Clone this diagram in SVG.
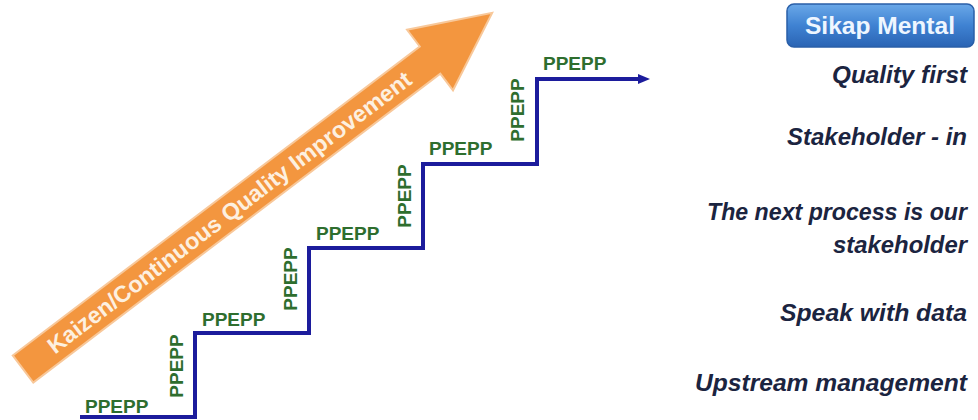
<svg xmlns="http://www.w3.org/2000/svg" width="978" height="420" viewBox="0 0 978 420">
  <defs>
    <style>
      .lbl { font-family: "Liberation Sans", Arial, sans-serif; font-weight: bold; font-size: 19px; fill: #2e6e2e; }
      .item { font-family: "Liberation Sans", Arial, sans-serif; font-weight: bold; font-style: italic; font-size: 23px; fill: #1b2440; text-anchor: end; }
      .stair { fill: none; stroke: #1c1c9c; stroke-width: 4; stroke-linejoin: miter; }
    </style>
    <linearGradient id="btnGrad" x1="0" y1="0" x2="0" y2="1">
      <stop offset="0" stop-color="#6aa8e8"/>
      <stop offset="0.5" stop-color="#3f82d2"/>
      <stop offset="1" stop-color="#2a64b4"/>
    </linearGradient>
    <marker id="arrowHead" markerUnits="userSpaceOnUse" markerWidth="12" markerHeight="10" refX="4" refY="5" orient="auto">
      <path d="M0,0 L12,5 L0,10 z" fill="#1c1c9c"/>
    </marker>
  </defs>
  <rect width="978" height="420" fill="#ffffff"/>

  <g id="kaizen-arrow" transform="translate(23,369) rotate(-37.2)">
    <path d="M0,-17 L511,-17 L511,-38 L589,0 L511,38 L511,17 L0,17 Z" fill="#f3963f" stroke="#f8c89a" stroke-width="2" stroke-linejoin="miter"/>
    <text x="259" y="8" text-anchor="middle" textLength="450" lengthAdjust="spacingAndGlyphs" font-family="Liberation Sans, Arial, sans-serif" font-weight="bold" font-size="23" fill="#fdf0e0">Kaizen/Continuous Quality Improvement</text>
  </g>

  <g id="connectors">
    <path class="stair" d="M80,417 H195 V333 H309 V248 H423 V164 H537 V79 H642" marker-end="url(#arrowHead)"/>
  </g>

  <g id="step-labels">
    <text class="lbl" x="85" y="413">PPEPP</text>
    <text class="lbl" x="202" y="326">PPEPP</text>
    <text class="lbl" x="316" y="240">PPEPP</text>
    <text class="lbl" x="429" y="155">PPEPP</text>
    <text class="lbl" x="543" y="70">PPEPP</text>
    <text class="lbl" text-anchor="middle" transform="translate(183,366) rotate(-90)">PPEPP</text>
    <text class="lbl" text-anchor="middle" transform="translate(297,279) rotate(-90)">PPEPP</text>
    <text class="lbl" text-anchor="middle" transform="translate(411,196) rotate(-90)">PPEPP</text>
    <text class="lbl" text-anchor="middle" transform="translate(524,110) rotate(-90)">PPEPP</text>
  </g>

  <g id="sikap-mental">
    <rect x="787" y="4" width="187" height="43" rx="7" ry="7" fill="url(#btnGrad)" stroke="#2a5fa8" stroke-width="1.5"/>
    <text x="880" y="34" text-anchor="middle" textLength="150" lengthAdjust="spacingAndGlyphs" font-family="Liberation Sans, Arial, sans-serif" font-weight="bold" font-size="24" fill="#eef6ff">Sikap Mental</text>
  </g>

  <g id="items">
    <text class="item" x="967" y="83" textLength="135" lengthAdjust="spacingAndGlyphs">Quality first</text>
    <text class="item" x="967" y="145" textLength="180" lengthAdjust="spacingAndGlyphs">Stakeholder - in</text>
    <text class="item" x="967" y="220" textLength="260" lengthAdjust="spacingAndGlyphs">The next process is our</text>
    <text class="item" x="967" y="253" textLength="134" lengthAdjust="spacingAndGlyphs">stakeholder</text>
    <text class="item" x="967" y="321" textLength="187" lengthAdjust="spacingAndGlyphs">Speak with data</text>
    <text class="item" x="967" y="391" textLength="272" lengthAdjust="spacingAndGlyphs">Upstream management</text>
  </g>
</svg>
